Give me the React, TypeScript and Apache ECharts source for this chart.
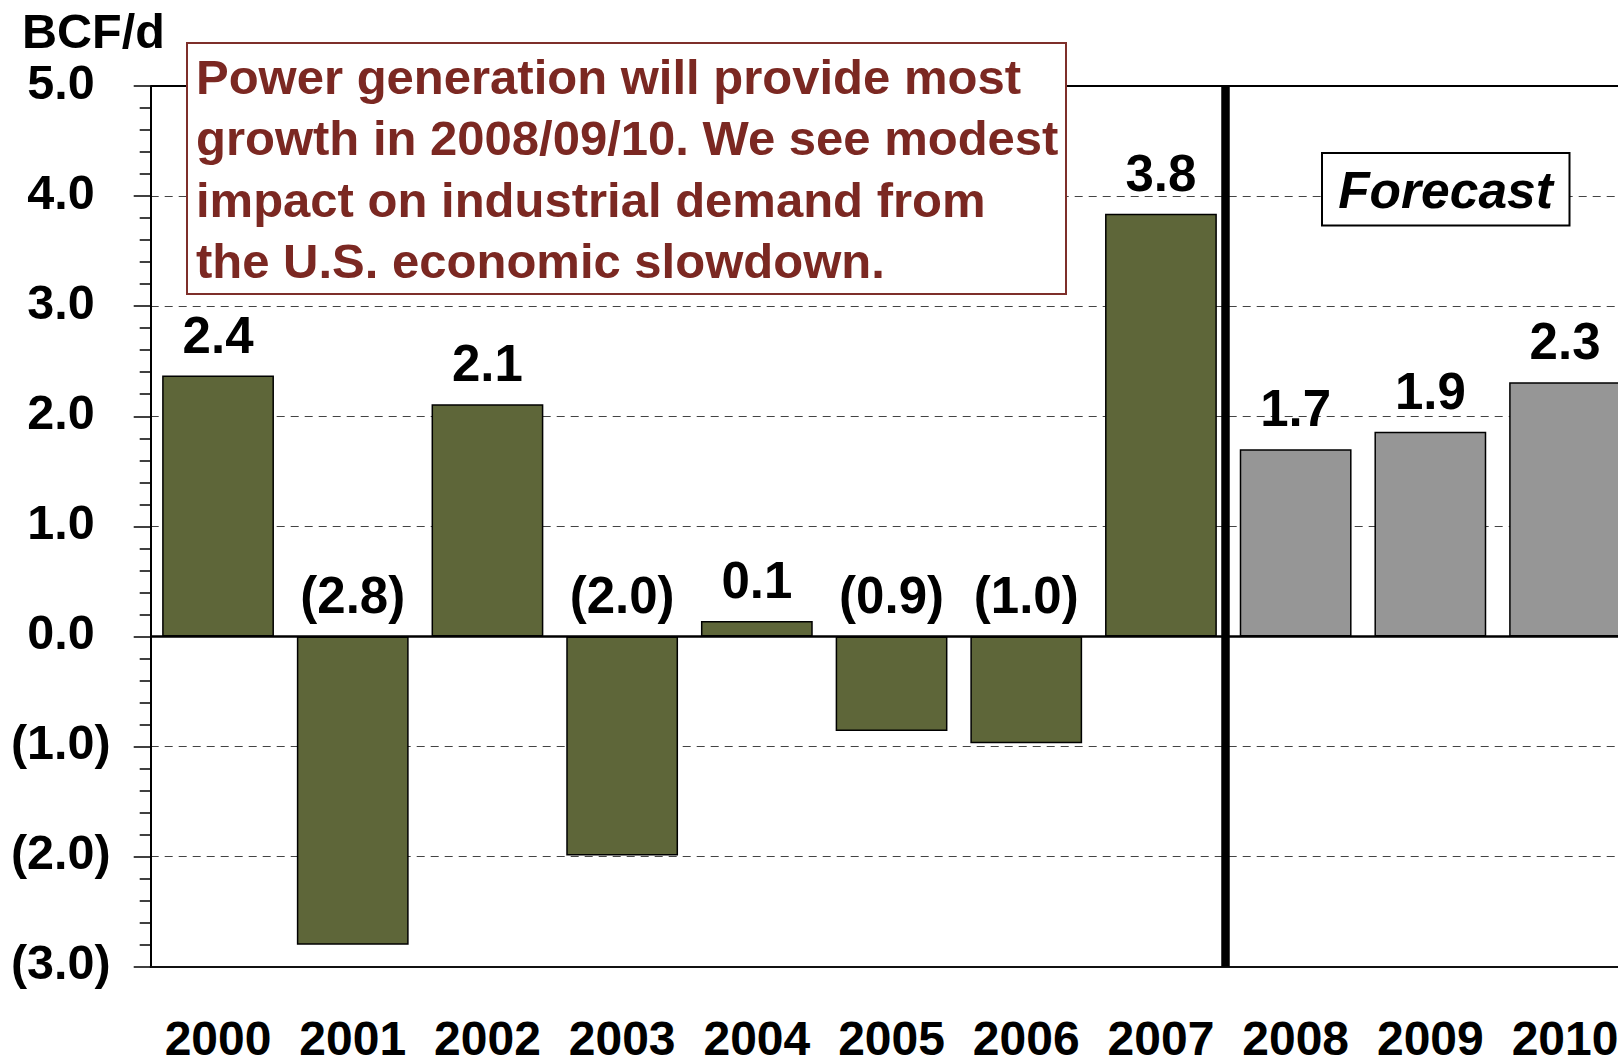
import React, { useEffect, useRef } from "react";
import * as echarts from "echarts";

// ---- data ----
const years = ["2000", "2001", "2002", "2003", "2004", "2005", "2006", "2007", "2008", "2009", "2010"];
const growth = [2.37, -2.8, 2.11, -1.99, 0.14, -0.86, -0.97, 3.84, 1.7, 1.86, 2.31];
const forecastStartIndex = 8;
const yMin = -3;
const yMax = 5;
const yStep = 1;
const unitLabel = "BCF/d";
const forecastLabel = "Forecast";
const noteLines = [
  "Power generation will provide most",
  "growth in 2008/09/10. We see modest",
  "impact on industrial demand from",
  "the U.S. economic slowdown.",
];

const FONT = '"Liberation Sans", Arial, Helvetica, sans-serif';
const GREEN = "#5E6639";
const GREY = "#969696";
const NOTE_RED = "#7B2822";

const fmt = (v: number) => (v < 0 ? `(${Math.abs(v).toFixed(1)})` : v.toFixed(1));

export default function App() {
  const ref = useRef<HTMLDivElement>(null);

  useEffect(() => {
    const chart = echarts.init(ref.current!, null, { renderer: "svg" });
    const labelBase = { fontFamily: FONT, fontWeight: "bold" as const, fontSize: 48.5, color: "#000" };
    chart.setOption({
      animation: false,
      backgroundColor: "#fff",
      grid: {
        left: 150.7,
        top: 86,
        width: 1481.7,
        height: 880.7,
        containLabel: false,
        outerBoundsMode: "none",
      },
      xAxis: [
        {
          type: "category",
          data: years,
          position: "bottom",
          axisLine: { onZero: false, lineStyle: { color: "#111", width: 2 } },
          axisTick: { show: false },
          splitLine: { show: false },
          axisLabel: {
            interval: 0,
            margin: 57,
            lineHeight: 30,
            fontSize: 48,
            fontWeight: "bold",
            color: "#000",
            fontFamily: FONT,
          },
        },
        {
          type: "value",
          min: 0,
          max: years.length,
          show: false,
          splitLine: { show: false },
        },
      ],
      yAxis: {
        type: "value",
        min: yMin,
        max: yMax,
        interval: yStep,
        axisLine: { show: true, onZero: false, lineStyle: { color: "#000", width: 2 } },
        axisTick: { show: true, length: 17, lineStyle: { color: "#000", width: 1.5 } },
        minorTick: { show: true, splitNumber: 5, length: 11, lineStyle: { color: "#000", width: 1.5 } },
        splitLine: { show: true, lineStyle: { type: [8, 6], color: "#444", width: 1 } },
        axisLabel: {
          margin: 40,
          ...labelBase,
          formatter: (v: number) => (v < 0 ? `{neg|${fmt(v)}}` : `{pos|${fmt(v)}}`),
          rich: {
            pos: { ...labelBase, padding: [0, 16, 9, 0] },
            neg: { ...labelBase, padding: [0, 0, 9, 0] },
          },
        },
      },
      series: [
        {
          type: "bar",
          data: growth.map((v, i) => ({
            value: v,
            itemStyle: { color: i >= forecastStartIndex ? GREY : GREEN },
          })),
          barWidth: "83%",
          itemStyle: { borderColor: "#000", borderWidth: 1.5 },
          label: {
            show: true,
            position: "top",
            distance: 15,
            formatter: (p: any) => fmt(p.value),
            fontSize: 51,
            fontWeight: "bold",
            color: "#000",
            fontFamily: FONT,
          },
          markLine: {
            silent: true,
            symbol: "none",
            label: { show: false },
            data: [
              { yAxis: 0, lineStyle: { color: "#000", width: 2.5, type: "solid" } },
              { yAxis: yMax, lineStyle: { color: "#000", width: 2, type: "solid" } },
            ],
          },
        },
        {
          type: "line",
          xAxisIndex: 1,
          yAxisIndex: 0,
          data: [],
          markLine: {
            silent: true,
            symbol: "none",
            label: { show: false },
            lineStyle: { color: "#000", width: 8.5, type: "solid" },
            data: [{ xAxis: forecastStartIndex - 0.02 }],
          },
        },
      ],
      graphic: [
        {
          type: "text",
          x: 22,
          y: 6,
          z: 20,
          style: { text: unitLabel, fontFamily: FONT, fontWeight: "bold", fontSize: 48.5, fill: "#000" },
        },
        {
          type: "rect",
          z: 20,
          shape: { x: 187, y: 43, width: 879, height: 251 },
          style: { fill: "#fff", stroke: "#7E2F2A", lineWidth: 2 },
        },
        {
          type: "text",
          x: 196,
          y: 46,
          z: 21,
          style: {
            text: noteLines.join("\n"),
            fontFamily: FONT,
            fontWeight: "bold",
            fontSize: 49,
            lineHeight: 61.5,
            fill: NOTE_RED,
          },
        },
        {
          type: "rect",
          z: 20,
          shape: { x: 1322, y: 153, width: 247.5, height: 72.5 },
          style: { fill: "#fff", stroke: "#000", lineWidth: 2 },
        },
        {
          type: "text",
          x: 1445.5,
          y: 189.5,
          z: 21,
          style: {
            text: forecastLabel,
            fontFamily: FONT,
            fontWeight: "bold",
            fontStyle: "italic",
            fontSize: 51.5,
            fill: "#000",
            align: "center",
            verticalAlign: "middle",
          },
        },
      ],
    });
    return () => chart.dispose();
  }, []);

  return (
    <div
      style={{
        position: "fixed",
        left: 0,
        top: 0,
        width: 1618,
        height: 1058,
        overflow: "hidden",
        background: "#fff",
      }}
    >
      <div ref={ref} style={{ width: 1640, height: 1058 }} />
    </div>
  );
}
